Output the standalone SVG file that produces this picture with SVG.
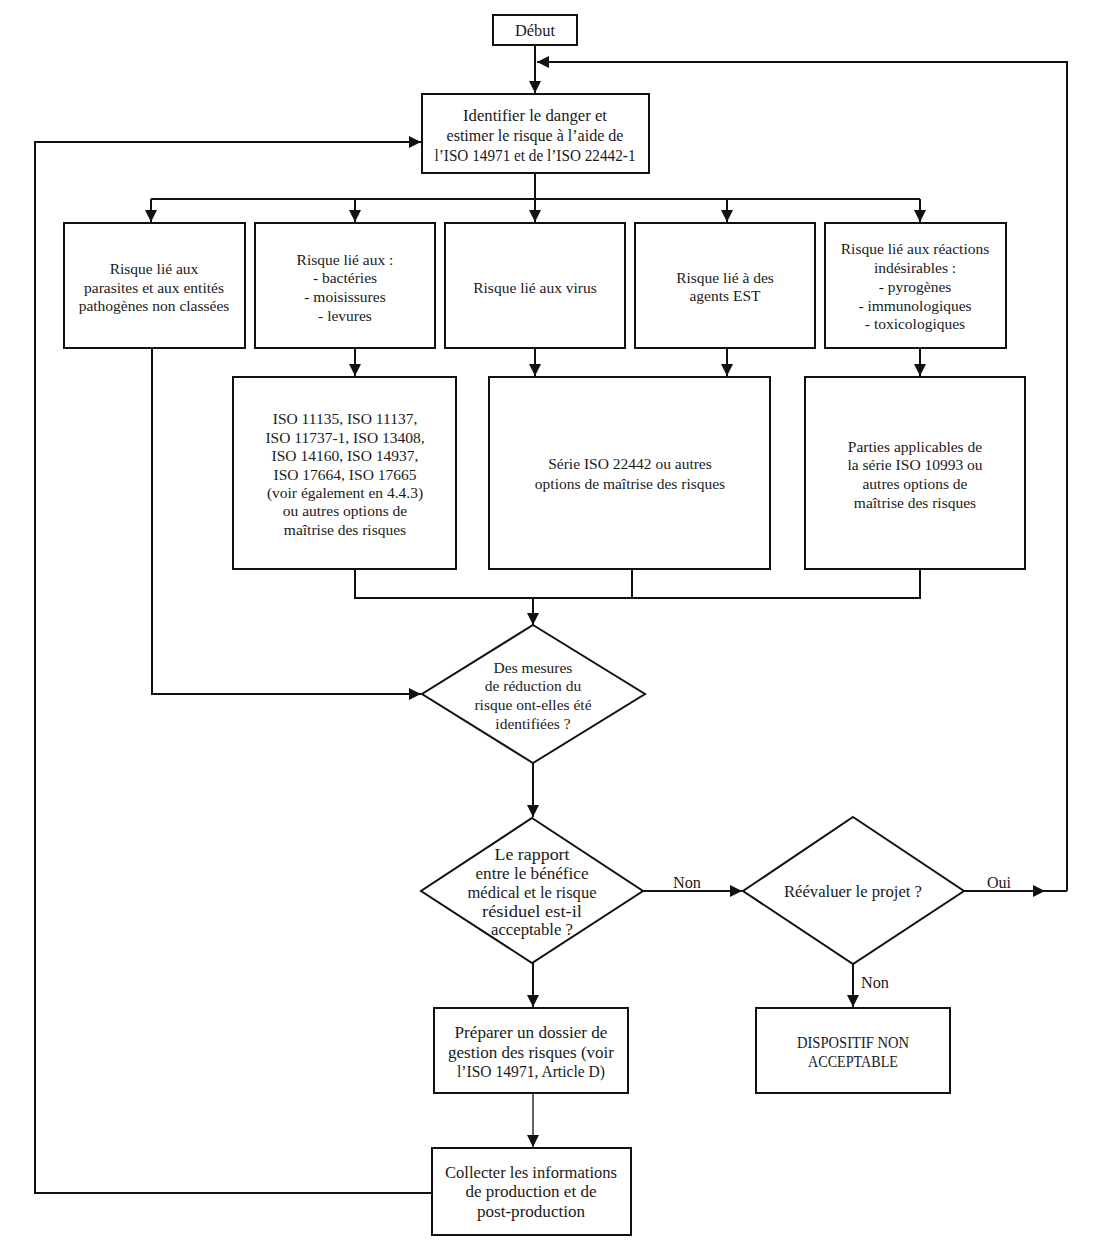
<svg xmlns="http://www.w3.org/2000/svg" width="1095" height="1257" viewBox="0 0 1095 1257">
<style>
.box{fill:#fff;stroke:#111;stroke-width:2}
.t{font-family:"Liberation Serif","Times New Roman",serif;font-size:15.5px;fill:#1a1a1a;text-anchor:middle;dominant-baseline:central}
.c{font-family:"Liberation Serif","Times New Roman",serif;font-size:16px;fill:#1a1a1a;text-anchor:middle;dominant-baseline:central}
.ln{fill:none;stroke:#111;stroke-width:2}
.thin{fill:none;stroke:#111;stroke-width:1.3}
</style>
<defs>
<marker id="ah" markerUnits="userSpaceOnUse" markerWidth="12" markerHeight="12" viewBox="0 0 12 12" refX="12" refY="6" orient="auto">
<path d="M0,0 L12,6 L0,12 Z" fill="#111"/>
</marker>
</defs>
<rect width="1095" height="1257" fill="#fff"/>
<g id="connectors">
<path class="ln" d="M535,45 V93" marker-end="url(#ah)"/>
<path class="ln" d="M1067,891 V62 H537" marker-end="url(#ah)"/>
<path class="ln" d="M432,1193 H35 V142 H421" marker-end="url(#ah)"/>
<path class="ln" d="M535,173 V199 M151,199 H920"/>
<path class="ln" d="M151,199 V222" marker-end="url(#ah)"/>
<path class="ln" d="M355,199 V222" marker-end="url(#ah)"/>
<path class="ln" d="M535,199 V222" marker-end="url(#ah)"/>
<path class="ln" d="M727,199 V222" marker-end="url(#ah)"/>
<path class="ln" d="M920,199 V222" marker-end="url(#ah)"/>
<path class="ln" d="M152,348 V694 H421" marker-end="url(#ah)"/>
<path class="ln" d="M355,348 V376" marker-end="url(#ah)"/>
<path class="ln" d="M535,348 V376" marker-end="url(#ah)"/>
<path class="ln" d="M727,348 V376" marker-end="url(#ah)"/>
<path class="ln" d="M920,348 V376" marker-end="url(#ah)"/>
<path class="ln" d="M355,569 V598 H920 V569 M632,569 V598"/>
<path class="ln" d="M533,598 V625" marker-end="url(#ah)"/>
<path class="ln" d="M533,763 V817" marker-end="url(#ah)"/>
<path class="ln" d="M643,891 H742" marker-end="url(#ah)"/>
<path class="ln" d="M964,891 H1045" marker-end="url(#ah)"/>
<path class="ln" d="M1043,891 H1067"/>
<path class="ln" d="M853,964 V1007" marker-end="url(#ah)"/>
<path class="ln" d="M533,963 V1007" marker-end="url(#ah)"/>
<path class="thin" d="M533,1093 V1147" marker-end="url(#ah)"/>
<text class="c" x="687" y="882" textLength="28" lengthAdjust="spacingAndGlyphs">Non</text>
<text class="c" x="999" y="882" textLength="24" lengthAdjust="spacingAndGlyphs">Oui</text>
<text class="c" x="875" y="982" textLength="28" lengthAdjust="spacingAndGlyphs">Non</text>
</g>
<g id="debut">
<rect class="box" x="493" y="15" width="84" height="30"/>
<text class="c" x="535" y="30" textLength="40" lengthAdjust="spacingAndGlyphs">Début</text>
</g>
<g id="identifier">
<rect class="box" x="422" y="94" width="227" height="79"/>
<text class="c" x="535" y="115" textLength="144" lengthAdjust="spacingAndGlyphs">Identifier le danger et</text>
<text class="c" x="535" y="135" textLength="177" lengthAdjust="spacingAndGlyphs">estimer le risque à l’aide de</text>
<text class="c" x="535" y="155" textLength="201" lengthAdjust="spacingAndGlyphs">l’ISO 14971 et de l’ISO 22442-1</text>
</g>
<g id="r1">
<rect class="box" x="64" y="223" width="181" height="125"/>
<text class="t" x="154" y="268">Risque lié aux</text>
<text class="t" x="154" y="287">parasites et aux entités</text>
<text class="t" x="154" y="305">pathogènes non classées</text>
</g>
<g id="r2">
<rect class="box" x="255" y="223" width="180" height="125"/>
<text class="t" x="345" y="259">Risque lié aux :</text>
<text class="t" x="345" y="277">- bactéries</text>
<text class="t" x="345" y="296">- moisissures</text>
<text class="t" x="345" y="315">- levures</text>
</g>
<g id="r3">
<rect class="box" x="445" y="223" width="180" height="125"/>
<text class="t" x="535" y="287">Risque lié aux virus</text>
</g>
<g id="r4">
<rect class="box" x="635" y="223" width="180" height="125"/>
<text class="t" x="725" y="277">Risque lié à des</text>
<text class="t" x="725" y="295">agents EST</text>
</g>
<g id="r5">
<rect class="box" x="825" y="223" width="181" height="125"/>
<text class="t" x="915" y="248">Risque lié aux réactions</text>
<text class="t" x="915" y="267">indésirables :</text>
<text class="t" x="915" y="286">- pyrogènes</text>
<text class="t" x="915" y="305">- immunologiques</text>
<text class="t" x="915" y="323">- toxicologiques</text>
</g>
<g id="isoA">
<rect class="box" x="233" y="377" width="223" height="192"/>
<text class="t" x="345" y="418">ISO 11135, ISO 11137,</text>
<text class="t" x="345" y="437">ISO 11737-1, ISO 13408,</text>
<text class="t" x="345" y="455">ISO 14160, ISO 14937,</text>
<text class="t" x="345" y="474">ISO 17664, ISO 17665</text>
<text class="t" x="345" y="492">(voir également en 4.4.3)</text>
<text class="t" x="345" y="510">ou autres options de</text>
<text class="t" x="345" y="529">maîtrise des risques</text>
</g>
<g id="isoB">
<rect class="box" x="489" y="377" width="281" height="192"/>
<text class="t" x="630" y="463">Série ISO 22442 ou autres</text>
<text class="t" x="630" y="483">options de maîtrise des risques</text>
</g>
<g id="isoC">
<rect class="box" x="805" y="377" width="220" height="192"/>
<text class="t" x="915" y="446">Parties applicables de</text>
<text class="t" x="915" y="464">la série ISO 10993 ou</text>
<text class="t" x="915" y="483">autres options de</text>
<text class="t" x="915" y="502">maîtrise des risques</text>
</g>
<g id="d1">
<polygon class="box" points="533,625 645,694 533,763 422,694"/>
<text class="t" x="533" y="667">Des mesures</text>
<text class="t" x="533" y="685">de réduction du</text>
<text class="t" x="533" y="704">risque ont-elles été</text>
<text class="t" x="533" y="723">identifiées ?</text>
</g>
<g id="d2">
<polygon class="box" points="532,818 643,891 532,963 421,891"/>
<text class="c" x="532" y="854" textLength="75" lengthAdjust="spacingAndGlyphs">Le rapport</text>
<text class="c" x="532" y="873" textLength="113" lengthAdjust="spacingAndGlyphs">entre le bénéfice</text>
<text class="c" x="532" y="892" textLength="129" lengthAdjust="spacingAndGlyphs">médical et le risque</text>
<text class="c" x="532" y="911" textLength="100" lengthAdjust="spacingAndGlyphs">résiduel est-il</text>
<text class="c" x="532" y="929" textLength="82" lengthAdjust="spacingAndGlyphs">acceptable ?</text>
</g>
<g id="d3">
<polygon class="box" points="853,817 964,891 853,964 743,891"/>
<text class="c" x="853" y="891" textLength="138" lengthAdjust="spacingAndGlyphs">Réévaluer le projet ?</text>
</g>
<g id="preparer">
<rect class="box" x="434" y="1008" width="194" height="85"/>
<text class="c" x="531" y="1032" textLength="153" lengthAdjust="spacingAndGlyphs">Préparer un dossier de</text>
<text class="c" x="531" y="1052" textLength="166" lengthAdjust="spacingAndGlyphs">gestion des risques (voir</text>
<text class="c" x="531" y="1071" textLength="148" lengthAdjust="spacingAndGlyphs">l’ISO 14971, Article D)</text>
</g>
<g id="dispositif">
<rect class="box" x="756" y="1008" width="194" height="85"/>
<text class="c" x="853" y="1042" textLength="112" lengthAdjust="spacingAndGlyphs">DISPOSITIF NON</text>
<text class="c" x="853" y="1061" textLength="90" lengthAdjust="spacingAndGlyphs">ACCEPTABLE</text>
</g>
<g id="collecter">
<rect class="box" x="432" y="1148" width="199" height="87"/>
<text class="c" x="531" y="1172" textLength="172" lengthAdjust="spacingAndGlyphs">Collecter les informations</text>
<text class="c" x="531" y="1191" textLength="131" lengthAdjust="spacingAndGlyphs">de production et de</text>
<text class="c" x="531" y="1211" textLength="108" lengthAdjust="spacingAndGlyphs">post-production</text>
</g>
</svg>
